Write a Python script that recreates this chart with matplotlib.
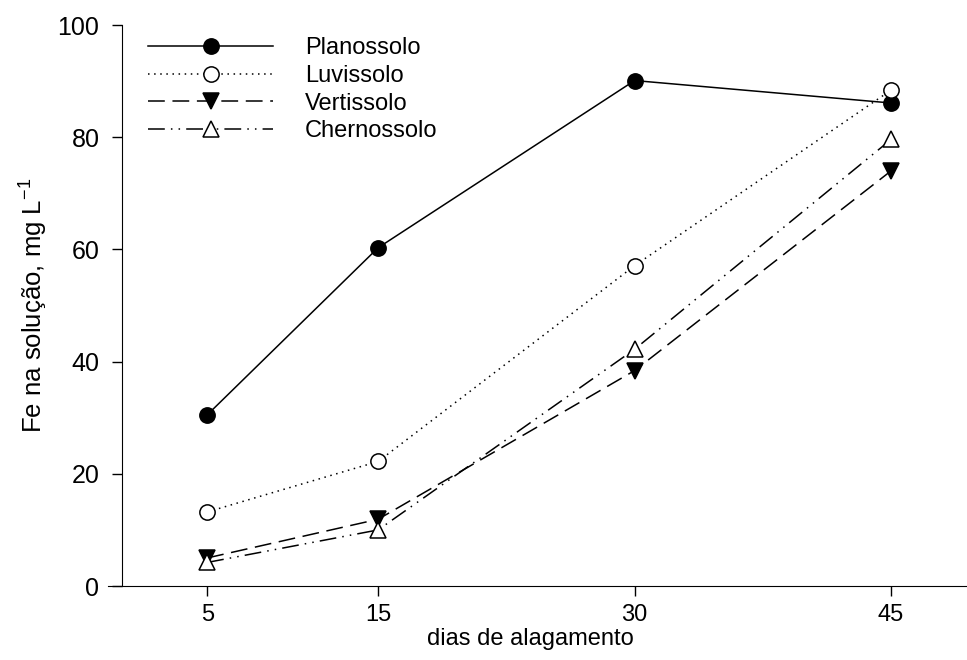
import matplotlib
matplotlib.use("Agg")
import matplotlib.pyplot as plt

plt.rcParams['font.family'] = ['Liberation Sans', 'DejaVu Sans']

# Data
dias = [5, 15, 30, 45]
planossolo = [30.5, 60.3, 90.1, 86.1]
luvissolo = [13.2, 22.2, 57.1, 88.4]
vertissolo = [5.0, 11.9, 38.4, 74.0]
chernossolo = [4.2, 10.0, 42.2, 79.6]

fig = plt.figure(figsize=(9.67, 6.6), dpi=100, facecolor='white')
ax = fig.add_axes([0.1117, 0.1121, 0.907, 0.850])

ax.plot(dias, planossolo, '-', color='black', lw=1.1, marker='o', ms=11,
        mfc='black', mec='black', mew=1.1, label='Planossolo')
ax.plot(dias, luvissolo, color='black', lw=1.1, dashes=(1, 3), marker='o', ms=11,
        mfc='white', mec='black', mew=1.1, label='Luvissolo')
ax.plot(dias, vertissolo, color='black', lw=1.1, dashes=(11, 5), marker='v', ms=11,
        mfc='black', mec='black', mew=1.1, label='Vertissolo')
ax.plot(dias, chernossolo, color='black', lw=1.1, dashes=(11, 4, 1, 4, 1, 4), marker='^', ms=11,
        mfc='white', mec='black', mew=1.1, label='Chernossolo')

ax.set_xlim(-0.8, 50.5)
ax.set_ylim(0, 100)
ax.spines['top'].set_visible(False)
ax.spines['right'].set_visible(False)
ax.spines['left'].set_position(('data', 0))
ax.set_xticks(dias)
ax.set_yticks([0, 20, 40, 60, 80, 100])
ax.tick_params(direction='out', length=7, width=1, labelsize=18)
ax.tick_params(axis='y', pad=9)
ax.tick_params(axis='x', labelsize=17, pad=6)

ax.set_xlabel("dias de alagamento", fontsize=17)
ax.xaxis.set_label_coords(0.481, -0.075)
ax.set_ylabel("Fe na solução, mg L$^{\\mathregular{-1}}$", fontsize=18.5)
ax.yaxis.set_label_coords(-0.067, 0.5)

ax.legend(loc='upper left', bbox_to_anchor=(0.0456, 0.978), frameon=False, fontsize=17,
          numpoints=1, handlelength=5.3, handletextpad=1.35, labelspacing=0.24,
          borderpad=0, borderaxespad=0)

plt.savefig("out.png", dpi=100)
